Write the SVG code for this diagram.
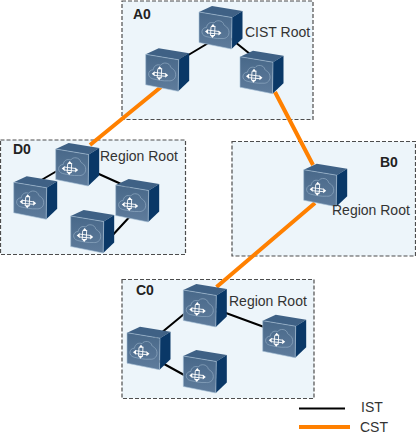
<svg xmlns="http://www.w3.org/2000/svg" width="416" height="436" viewBox="0 0 416 436">
<style>
.region{fill:#edf5fa;stroke:#4d4d4d;stroke-width:1.2;stroke-dasharray:4 2}
.ist{stroke:#000;stroke-width:2;fill:none}
.cst{stroke:#ff8000;stroke-width:4;fill:none}
text{font-family:"Liberation Sans",Arial,sans-serif;font-size:14px;fill:#333}
.name{font-weight:bold;fill:#222}
</style>
<defs>
<linearGradient id="front" x1="0" y1="0" x2="0" y2="1"><stop offset="0" stop-color="#486889"/><stop offset="1" stop-color="#5f7c9c"/></linearGradient>
<symbol id="sw" width="45" height="45" viewBox="0 0 45 45" overflow="visible">
<path d="M0 6L13 0L43.500 5L33 11.500Z" fill="#3f6185"/>
<path d="M33 11.500L43.500 5V32.500L32.500 43Z" fill="#0a3867"/>
<path d="M0 6L33 11.500L32.500 43L0 36.500Z" fill="url(#front)" stroke="#a9c3d9" stroke-width=".6"/>
<path d="M7 30.500C1 29 2 21.500 7.500 21.500C8 17.500 11.500 15.500 15 17C17 13.500 24 14 25 19C25.500 20 30 21 30 26.500C30 31 26 33 23 32.500C17 33 12 31.500 7 30.500Z" fill="none" stroke="#8fa9c2" stroke-width=".7"/>
<path d="M12 21L11.500 29.500M16 20L15.500 30M8.500 24L20 25.500M8.500 27L20 28" fill="none" stroke="#fff" stroke-width=".9"/>
<path d="M14 18L11.500 21H16.500ZM13.500 32L11 29H16ZM6 25.500L9 23V28ZM22.500 27L19.500 24.500V29.500Z" fill="#fff"/>
</symbol>
</defs>
<rect class="region" x="122" y="1" width="191" height="118.500"/>
<rect class="region" x="0.500" y="140" width="185" height="114.500"/>
<rect class="region" x="232" y="141.500" width="183.500" height="114.500"/>
<rect class="region" x="122" y="279.500" width="192" height="119"/>
<g id="connectors">
<path class="ist" d="M180 60L215 39M230 38L255 58"/>
<path class="ist" d="M38 182L62 168M90 170L130 188M134 212L110 238"/>
<path class="ist" d="M155 338L195 305M215 309L275 331M155 359L195 381"/>
<path class="cst" d="M161 87L90 145M275 92L313 165M315 203L216.500 287"/>
<path class="ist" d="M299 408.500H345"/>
<path class="cst" d="M299 427H350"/>
</g>
<g id="A0-root"><use href="#sw" x="199" y="6"/></g>
<g id="A0-left"><use href="#sw" x="145.700" y="48.300"/></g>
<g id="A0-right"><use href="#sw" x="240" y="50.700"/></g>
<g id="D0-root"><use href="#sw" x="55.700" y="143"/></g>
<g id="D0-left"><use href="#sw" x="13.700" y="176.300"/></g>
<g id="D0-right"><use href="#sw" x="115.700" y="179"/></g>
<g id="D0-bottom"><use href="#sw" x="70.700" y="210"/></g>
<g id="B0-root"><use href="#sw" x="303.700" y="163.700"/></g>
<g id="C0-root"><use href="#sw" x="183.300" y="284"/></g>
<g id="C0-left"><use href="#sw" x="127" y="326.700"/></g>
<g id="C0-right"><use href="#sw" x="262.700" y="314.700"/></g>
<g id="C0-bottom"><use href="#sw" x="183.300" y="350"/></g>
<g id="labels">
<text class="name" x="133" y="18.500">A0</text>
<text x="245" y="37">CIST Root</text>
<text class="name" x="13" y="154">D0</text>
<text x="100" y="161">Region Root</text>
<text class="name" x="380" y="167">B0</text>
<text x="332" y="214.500">Region Root</text>
<text class="name" x="136" y="295">C0</text>
<text x="229" y="305.500">Region Root</text>
<text x="361" y="412">IST</text>
<text x="360" y="432">CST</text>
</g>
</svg>
